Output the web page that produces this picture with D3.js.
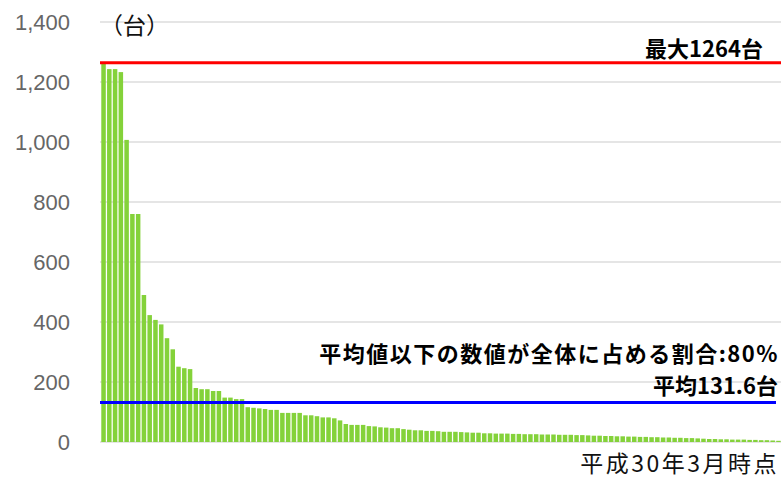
<!DOCTYPE html>
<html>
<head>
<meta charset="utf-8">
<script src="https://cdn.jsdelivr.net/npm/d3@7"></script>
<style>
  body { margin: 0; background: #fff; }
  #chart { width: 781px; height: 479px; }
</style>
</head>
<body>
<div id="chart"></div>
<script>

// 台数 (sorted, descending)
var counts = [
    1264, 1243, 1243, 1233, 1007, 760, 760, 490, 423, 407,
    392, 346, 309, 251, 246, 243, 180, 176, 176, 170,
    170, 148, 148, 143, 143, 116, 114, 112, 110, 107,
    107, 97, 97, 97, 97, 89, 89, 86, 82, 82,
    79, 72, 60, 57, 57, 57, 53, 52, 49, 48,
    46, 46, 43, 41, 39, 39, 37, 37, 36, 34,
    34, 34, 33, 32, 31, 31, 29, 29, 28, 28,
    28, 27, 27, 26, 26, 26, 25, 25, 25, 24,
    24, 24, 23, 23, 22, 21, 21, 20, 20, 19,
    19, 18, 18, 17, 17, 16, 16, 15, 15, 14,
    14, 13, 13, 12, 11, 10, 10, 9, 9, 8,
    8, 8, 7, 7, 6, 6, 5, 4
];

var yTicks = [0, 200, 400, 600, 800, 1000, 1200, 1400];

var maxValue = 1264;
var avgValue = 131.6;

var maxLabel = "最大1264台";
var ratioLabel = "平均値以下の数値が全体に占める割合:80%";
var avgLabel = "平均131.6台";
var dateLabel = "平成30年3月時点";
var unitLabel = "（台）";

var width = 781,
    height = 479;

var plotLeft = 100,
    plotRight = 781;

var svg = d3.select("#chart")
    .append("svg")
    .attr("width", width)
    .attr("height", height);

var y = d3.scaleLinear()
    .domain([0, 1400])
    .range([442, 22]);

var x = d3.scaleBand()
    .domain(d3.range(counts.length))
    .range([101, 781])
    .paddingInner(0.22)
    .paddingOuter(0.05);

// grid lines
svg.append("g")
    .selectAll("line")
    .data(yTicks)
    .enter().append("line")
    .attr("x1", plotLeft)
    .attr("x2", plotRight)
    .attr("y1", function(d) { return y(d); })
    .attr("y2", function(d) { return y(d); })
    .style("stroke", "#dcdcdc")
    .style("stroke-width", 1.5);

// y axis labels
var yAxis = d3.axisLeft(y)
    .tickValues(yTicks)
    .tickSize(0)
    .tickPadding(0)
    .tickFormat(d3.format(","));

var axisG = svg.append("g")
    .attr("transform", "translate(70,0)")
    .call(yAxis);

axisG.select(".domain").remove();
axisG.selectAll("text")
    .style("font-family", "'Liberation Sans', Arial, sans-serif")
    .style("font-size", "22px")
    .style("fill", "#666");

// bars
svg.append("g")
    .selectAll("rect")
    .data(counts)
    .enter().append("rect")
    .attr("x", function(d, i) { return x(i); })
    .attr("width", x.bandwidth())
    .attr("y", function(d) { return y(d); })
    .attr("height", function(d) { return y(0) - y(d); })
    .attr("fill", "#84d23a");

// max line
svg.append("line")
    .attr("x1", plotLeft)
    .attr("x2", plotRight)
    .attr("y1", y(maxValue))
    .attr("y2", y(maxValue))
    .style("stroke", "#ff0000")
    .style("stroke-width", 3);

// average line
svg.append("line")
    .attr("x1", plotLeft)
    .attr("x2", 776)
    .attr("y1", y(avgValue))
    .attr("y2", y(avgValue))
    .style("stroke", "#0000ff")
    .style("stroke-width", 3);

var jp = "'Noto Sans CJK JP', sans-serif";

svg.append("text")
    .attr("x", 100)
    .attr("y", 34)
    .style("font-family", jp)
    .style("font-size", "23px")
    .style("fill", "#111")
    .text(unitLabel);

svg.append("text")
    .attr("x", 763)
    .attr("y", 57)
    .attr("text-anchor", "end")
    .style("font-family", jp)
    .style("font-weight", "bold")
    .style("font-size", "22px")
    .text(maxLabel);

svg.append("text")
    .attr("x", 779)
    .attr("y", 362)
    .attr("text-anchor", "end")
    .style("font-family", jp)
    .style("font-weight", "bold")
    .style("font-size", "22px")
    .style("letter-spacing", "1.5px")
    .text(ratioLabel);

svg.append("text")
    .attr("x", 778)
    .attr("y", 394)
    .attr("text-anchor", "end")
    .style("font-family", jp)
    .style("font-weight", "bold")
    .style("font-size", "22px")
    .text(avgLabel);

svg.append("text")
    .attr("x", 779)
    .attr("y", 472)
    .attr("text-anchor", "end")
    .style("font-family", jp)
    .style("font-size", "23px")
    .style("letter-spacing", "2.5px")
    .style("fill", "#111")
    .text(dateLabel);

</script>
</body>
</html>
